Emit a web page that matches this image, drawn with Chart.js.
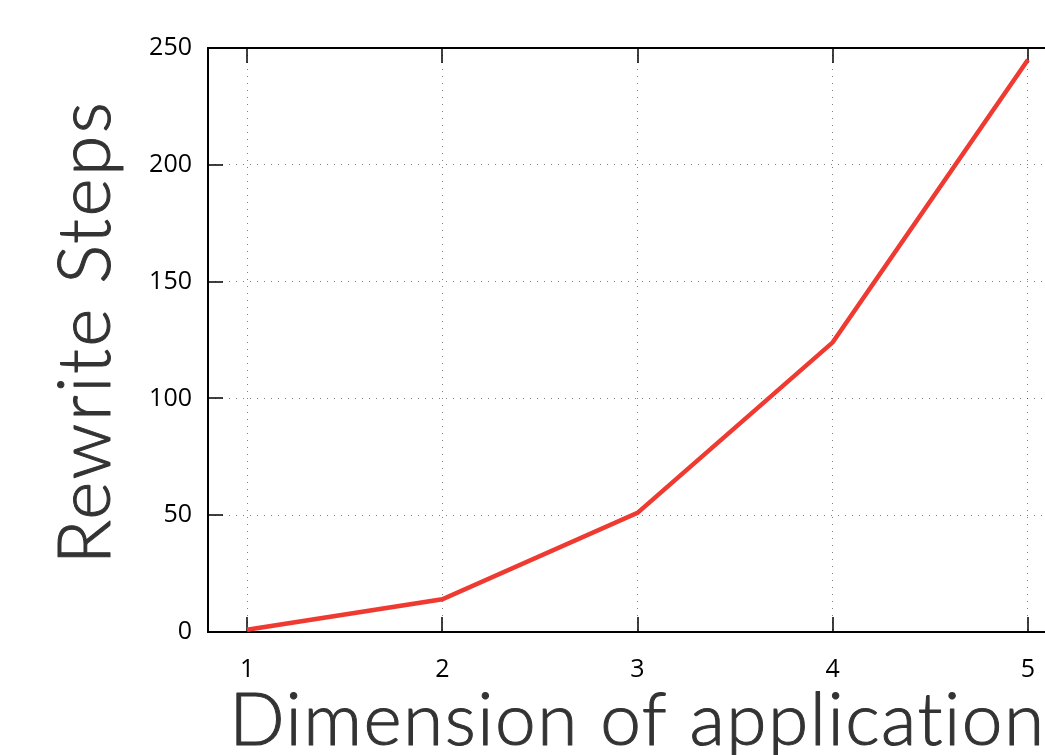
<!DOCTYPE html>
<html>
<head>
<meta charset="utf-8">
<script src="https://cdn.jsdelivr.net/npm/chart.js@4.4.0/dist/chart.umd.min.js"></script>
<style>
  html, body { margin: 0; padding: 0; background: #fff; overflow: hidden; width: 1045px; height: 755px; }
  #wrap { position: absolute; left: 0; top: 0; width: 1100px; height: 755px; }
</style>
</head>
<body>
<div id="wrap"><canvas id="c" width="1100" height="755"></canvas></div>
<script>
// ---- data ----
const categories = [1, 2, 3, 4, 5];
const rewriteSteps = [1, 14, 51, 124, 245];
const yTicks = [0, 50, 100, 150, 200, 250];
const xTitle = 'Dimension of application';
const yTitle = 'Rewrite Steps';

const points = categories.map((c, i) => ({ x: c, y: rewriteSteps[i] }));

const TICK_LEN = 15;
const TITLE_FONT = '300 73px Lato, "Open Sans", sans-serif';
const frameAndTicks = {
  id: 'frameAndTicks',
  beforeDatasetsDraw(chart) {
    const { ctx, chartArea: a } = chart;
    const xs = chart.scales.x, ys = chart.scales.y;
    ctx.save();
    ctx.strokeStyle = '#000';
    ctx.lineWidth = 1.5;
    ctx.beginPath();
    xs.ticks.forEach(t => {
      const px = Math.round(xs.getPixelForValue(t.value));
      ctx.moveTo(px, a.bottom); ctx.lineTo(px, a.bottom - TICK_LEN);
      ctx.moveTo(px, a.top); ctx.lineTo(px, a.top + TICK_LEN);
    });
    ys.ticks.forEach(t => {
      const py = Math.round(ys.getPixelForValue(t.value));
      ctx.moveTo(a.left, py); ctx.lineTo(a.left + TICK_LEN, py);
      ctx.moveTo(a.right, py); ctx.lineTo(a.right - TICK_LEN, py);
    });
    ctx.stroke();
    ctx.lineWidth = 2;
    ctx.strokeRect(a.left, a.top, a.right - a.left, a.bottom - a.top);
    ctx.restore();
  },
  afterDraw(chart) {
    const { ctx, chartArea: a } = chart;
    ctx.save();
    ctx.fillStyle = '#333';
    ctx.strokeStyle = '#333';
    ctx.lineWidth = 1;
    ctx.lineJoin = 'round';
    ctx.font = TITLE_FONT;
    ctx.letterSpacing = '1.5px';
    ctx.textAlign = 'center';
    ctx.textBaseline = 'alphabetic';
    // x title, centred on the plot area
    const cx = (a.left + a.right) / 2;
    ctx.fillText(xTitle, cx, 745);
    ctx.strokeText(xTitle, cx, 745);
    // y title, rotated
    ctx.translate(110, 332);
    ctx.rotate(-Math.PI / 2);
    ctx.letterSpacing = '2.5px';
    ctx.fillText(yTitle, 0, 0);
    ctx.strokeText(yTitle, 0, 0);
    ctx.restore();
  }
};

new Chart(document.getElementById('c'), {
  type: 'line',
  data: {
    datasets: [{
      data: points,
      borderColor: '#ee3a31',
      borderWidth: 4.5,
      pointRadius: 0,
      tension: 0,
      fill: false
    }]
  },
  options: {
    responsive: false,
    animation: false,
    devicePixelRatio: 1,
    layout: { padding: { left: 0, right: 33, top: 48, bottom: 0 } },
    plugins: { legend: { display: false }, tooltip: { enabled: false } },
    scales: {
      x: {
        type: 'linear',
        min: 0.8, max: 5.2,
        afterBuildTicks: s => { s.ticks = categories.map(v => ({ value: v })); },
        afterFit: s => { s.height = 123; },
        grid: { color: 'rgba(0,0,0,0.5)', lineWidth: 1, drawTicks: false },
        border: { display: false, dash: [1, 6] },
        ticks: {
          color: '#000', padding: 23, maxRotation: 0,
          font: { family: 'Open Sans', size: 25 },
          callback: v => String(v)
        },
        title: { display: false }
      },
      y: {
        min: 0, max: 250,
        afterBuildTicks: s => { s.ticks = yTicks.map(v => ({ value: v })); },
        afterFit: s => { s.width = 208; },
        grid: { color: 'rgba(0,0,0,0.5)', lineWidth: 1, drawTicks: false },
        border: { display: false, dash: [1, 6] },
        ticks: {
          color: '#000', padding: 16,
          font: { family: 'Open Sans', size: 25 },
          callback: v => String(v)
        },
        title: { display: false }
      }
    }
  },
  plugins: [frameAndTicks]
});
</script>
</body>
</html>
